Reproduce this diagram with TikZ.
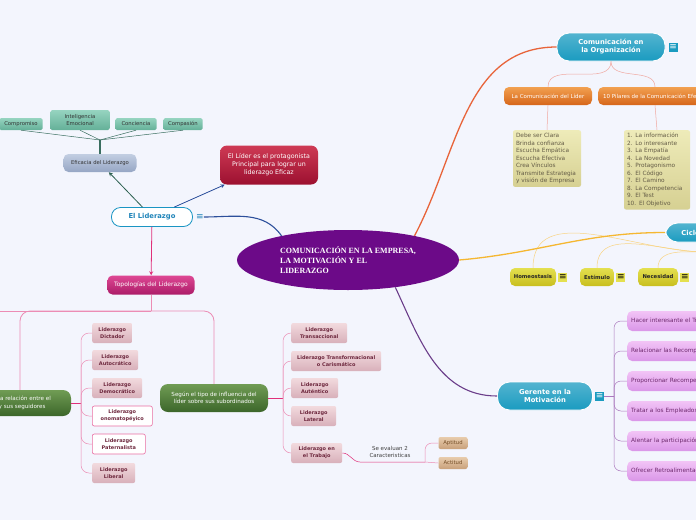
\documentclass[tikz,border=0pt]{standalone}
\usepackage{fontspec}
\setmainfont{DejaVu Sans}
\newfontfamily\titlefont{Liberation Serif}
\usetikzlibrary{arrows.meta, positioning, shapes.geometric}
\definecolor{paper}{RGB}{243,245,253}
\definecolor{plum}{RGB}{108,10,136}
\definecolor{lagoon}{RGB}{26,155,192}
\definecolor{rust}{RGB}{232,100,58}
\definecolor{amber}{RGB}{245,183,49}
\definecolor{grape}{RGB}{107,61,138}
\definecolor{grapetext}{RGB}{110,40,110}
\definecolor{navy}{RGB}{44,79,155}
\definecolor{forest}{RGB}{44,96,80}
\definecolor{rose}{RGB}{224,48,122}
\definecolor{roseline}{RGB}{236,140,180}
\definecolor{salmon}{RGB}{240,168,160}
\definecolor{orangetop}{RGB}{242,160,80}
\definecolor{orangebot}{RGB}{214,102,26}
\definecolor{khakitop}{RGB}{238,235,185}
\definecolor{khakibot}{RGB}{214,208,146}
\definecolor{ink}{RGB}{100,92,70}
\definecolor{yelltop}{RGB}{228,224,80}
\definecolor{yellbot}{RGB}{200,190,30}
\definecolor{liltop}{RGB}{242,196,246}
\definecolor{lilbot}{RGB}{218,150,232}
\definecolor{lilline}{RGB}{170,120,190}
\definecolor{crimtop}{RGB}{206,58,84}
\definecolor{crimbot}{RGB}{156,16,48}
\definecolor{slatetop}{RGB}{194,206,226}
\definecolor{slatebot}{RGB}{150,166,196}
\definecolor{minttop}{RGB}{150,212,192}
\definecolor{mintbot}{RGB}{100,176,152}
\definecolor{mintline}{RGB}{58,110,96}
\definecolor{magtop}{RGB}{222,72,148}
\definecolor{magbot}{RGB}{172,28,104}
\definecolor{olivetop}{RGB}{112,156,84}
\definecolor{olivebot}{RGB}{60,102,42}
\definecolor{blushtop}{RGB}{242,218,222}
\definecolor{blushbot}{RGB}{216,176,186}
\definecolor{wine}{RGB}{110,40,62}
\definecolor{tantop}{RGB}{232,204,172}
\definecolor{tanbot}{RGB}{200,160,122}

\begin{document}
\begin{tikzpicture}[x=1pt, y=1pt,
    tx/.style={font=\fontsize{5.8}{7.5}\selectfont},
    blob/.style={rounded corners=5pt, align=center, inner sep=1pt},
    pill/.style={blob, rounded corners=12pt, top color=lagoon!75!white, bottom color=lagoon,
                 draw=white, line width=0.9pt, text=white,
                 font=\bfseries\fontsize{6.8}{8}\selectfont},
    menu/.style={fill=lagoon, text=white, inner sep=0pt, minimum size=9pt,
                 font=\fontsize{9}{9}\selectfont},
    ymenu/.style={menu, fill=yelltop, text=black},
    orng/.style={blob, top color=orangetop, bottom color=orangebot, text=white,
                 font=\fontsize{5.5}{6.5}\selectfont, minimum height=18pt},
    note/.style={rounded corners=2pt, top color=khakitop, bottom color=khakibot,
                 text=ink, align=left, tx, inner sep=3pt, anchor=north},
    yell/.style={blob, top color=yelltop, bottom color=yellbot, text=black!85,
                 font=\bfseries\fontsize{5.3}{6}\selectfont, minimum height=18pt},
    lil/.style={blob, anchor=west, top color=liltop, bottom color=lilbot, text=grapetext,
                tx, minimum height=20pt, text width=200pt, align=left, inner xsep=4pt},
    crim/.style={blob, rounded corners=7pt, top color=crimtop, bottom color=crimbot,
                 text=white, font=\fontsize{6.3}{8}\selectfont},
    slate/.style={blob, top color=slatetop, bottom color=slatebot, text=black!80,
                  font=\fontsize{5.3}{6}\selectfont},
    mint/.style={blob, rounded corners=1.5pt, top color=minttop, bottom color=mintbot,
                 text=black!80, font=\fontsize{5.3}{6.3}\selectfont},
    mag/.style={blob, top color=magtop, bottom color=magbot, text=white,
                font=\fontsize{6}{7}\selectfont},
    olive/.style={blob, rounded corners=8pt, top color=olivetop, bottom color=olivebot,
                  text=white, font=\fontsize{5.6}{7.5}\selectfont},
    blush/.style={blob, rounded corners=2pt, top color=blushtop, bottom color=blushbot,
                  text=wine, font=\bfseries\fontsize{5}{7}\selectfont, minimum height=20pt},
    hollow/.style={blush, top color=white, bottom color=white, draw=rose!70, line width=0.6pt},
    tan/.style={blob, rounded corners=2pt, top color=tantop, bottom color=tanbot,
                text=brown!60!black, font=\fontsize{5.3}{6}\selectfont,
                minimum height=12pt, minimum width=29pt},
    link/.style={line width=0.5pt},
    arr/.style={-{Stealth[length=4pt, width=4pt]}, line width=0.8pt}
  ]
  \fill[paper] (0,0) rectangle (696,-520);
  \useasboundingbox (0,0) rectangle (696,-520);

  % centre
  \node[ellipse, fill=plum, minimum width=222pt, minimum height=60pt, text=white,
        align=left, font=\titlefont\bfseries\fontsize{8}{10}\selectfont]
        (hub) at (348,-260) {COMUNICACIÓN EN LA EMPRESA,\\LA MOTIVACIÓN Y EL\\LIDERAZGO};

  % comunicacion en la organizacion
  \node[pill, minimum width=108pt, minimum height=28pt] (org) at (611,-47)
        {Comunicación en\\la Organización};
  \node[menu, right=3pt of org] (orgico) {≡};
  \node[orng, minimum width=88pt] (lcom) at (548,-96) {La Comunicación del Líder};
  \node[orng, anchor=west, inner xsep=5pt, minimum width=110pt] (pil) at (598,-96)
        {10 Pilares de la Comunicación Efectiva};
  \node[note, text width=62pt] (lst1) at (547,-130)
        {Debe ser Clara\\Brinda confianza\\Escucha Empática\\Escucha Efectiva\\Crea Vínculos\\Transmite Estrategia\\y visión de Empresa};
  \node[note, text width=60pt] (lst2) at (657,-130)
        {1. La información\\2. Lo interesante\\3. La Empatía\\4. La Novedad\\5. Protagonismo\\6. El Código\\7. El Camino\\8. La Competencia\\9. El Test\\10. El Objetivo};
  \draw[rust, line width=1.3pt] (hub.20) to[out=62, in=180] (org.west);
  \draw[salmon, link] (org.south) to[out=-90, in=90] (lcom.north);
  \draw[salmon, link] (org.south) to[out=-90, in=90] ([xshift=57pt]pil.north west);
  \draw[salmon, link] (lcom.south) -- (lst1.north);
  \draw[salmon, link] ([xshift=57pt]pil.south west) -- (lst2.north);

  % ciclo
  \node[pill, anchor=west, inner xsep=16pt, minimum height=19pt] (cyc) at (665,-232.5)
        {Ciclo Motivacional};
  \coordinate (cycin) at (705,-252);
  \node[yell, minimum width=46pt] (homeo) at (533,-277) {Homeostasis};
  \node[yell, minimum width=34pt] (estim) at (597,-277) {Estímulo};
  \node[yell, minimum width=40pt] (neces) at (658,-277) {Necesidad};
  \foreach \k in {homeo, estim, neces} {
    \node[ymenu, right=2pt of \k] {≡};
    \draw[amber!60, link] (\k.north) to[out=90, in=180] (cycin);
  }
  \draw[amber, line width=1.3pt] (hub.east) to[out=5, in=180] (cyc.west);

  % gerente
  \node[pill, minimum width=95pt, minimum height=28pt] (ger) at (545,-396)
        {Gerente en la\\Motivación};
  \node[menu, right=2pt of ger] (gerico) {≡};
  \coordinate (mhub) at (614,-396);
  \draw[grape, line width=1.1pt] (hub.-30) to[out=-65, in=180] (ger.west);
  \draw[lilline, link] (gerico.east) -- (mhub);
  \foreach \y/\t [count=\i] in {321/Hacer interesante el Trabajo,
      351/Relacionar las Recompensas con el Rendimiento,
      381/Proporcionar Recompensas que sean valoradas,
      411/Tratar a los Empleados como personas,
      441/Alentar la participación y la colaboración,
      471/Ofrecer Retroalimentación precisa y oportuna} {
    \node[lil] (m\i) at (627,-\y) {\t};
    \draw[lilline, link, rounded corners=7pt] (mhub) |- (m\i.west);
  }

  % el liderazgo
  \node[blob, rounded corners=9pt, fill=white, draw=navy!60!cyan, line width=0.8pt,
        minimum width=81pt, minimum height=19pt, text=navy!70!cyan,
        font=\bfseries\fontsize{6.8}{8}\selectfont] (lid) at (152,-217) {El Liderazgo};
  \node[text=navy!70!cyan, inner sep=0pt, font=\fontsize{9}{9}\selectfont,
        right=3pt of lid] (lidico) {≡};
  \draw[navy, line width=1.1pt] (lidico.east) to[out=0, in=125] (hub.160);
  \node[crim, minimum width=98pt, minimum height=39pt] (lider) at (269,-165)
        {El Líder es el protagonista\\Principal para lograr un\\liderazgo Eficaz};
  \draw[arr, navy] (lid) -- (lider);
  \node[slate, minimum width=73pt, minimum height=18pt] (efic) at (100,-163)
        {Eficacia del Liderazgo};
  \draw[arr, forest] (lid) -- (efic);
  \node[mint, minimum width=43pt, minimum height=12pt] (comp) at (21,-124) {Compromiso};
  \node[mint, minimum width=59pt, minimum height=20pt] (intel) at (80,-120)
        {Inteligencia\\Emocional};
  \node[mint, minimum width=41pt, minimum height=12pt] (conc) at (136,-124) {Conciencia};
  \node[mint, minimum width=39pt, minimum height=12pt] (compa) at (183,-124) {Compasión};
  \coordinate (efhub) at (100,-140);
  \draw[mintline, line width=1.1pt] (efic.north) -- (efhub);
  \foreach \k in {comp, intel, conc, compa}
    \draw[mintline, link] (efhub) -- (\k.south);

  % topologias
  \node[mag, minimum width=87pt, minimum height=19pt] (topo) at (151,-285)
        {Topologías del Liderazgo};
  \draw[arr, rose] (lid) -- (topo);
  \coordinate (tophub) at (151,-311);
  \node[olive, minimum width=112pt, minimum height=26pt] (relac) at (15,-403)
        {Según la relación entre el\\líder y sus seguidores};
  \node[olive, minimum width=108pt, minimum height=28pt] (influ) at (214,-398)
        {Según el tipo de influencia del\\líder sobre sus subordinados};
  \draw[roseline, line width=0.8pt] (topo.south) -- (tophub);
  \draw[roseline, line width=0.8pt, rounded corners=10pt] (tophub) -| ([xshift=5pt]relac.north);
  \draw[roseline, line width=0.8pt, rounded corners=10pt] (tophub) -| (influ.north);
  \draw[roseline, line width=0.8pt] (tophub) -- (0,-311);

  \node[blush, minimum width=40pt, anchor=west] (dict) at (92,-333) {Liderazgo\\Dictador};
  \node[blush, minimum width=46pt, anchor=west] (auto) at (92,-360) {Liderazgo\\Autocrático};
  \node[blush, minimum width=50pt, anchor=west] (demo) at (92,-388) {Liderazgo\\Democrático};
  \node[hollow, minimum width=60pt, anchor=west] (onom) at (92,-416) {Liderazgo\\onomatopéyico};
  \node[hollow, minimum width=53pt, anchor=west] (pate) at (92,-444) {Liderazgo\\Paternalista};
  \node[blush, minimum width=43pt, anchor=west] (libe) at (92,-473) {Liderazgo\\Liberal};
  \coordinate (lhub) at (81,-403);
  \draw[rose, line width=0.9pt] (relac.east) -- (lhub);
  \foreach \k in {dict, auto, demo, onom, pate, libe}
    \draw[roseline, link, rounded corners=8pt] (lhub) |- (\k.west);

  \node[blush, minimum width=56pt, anchor=west] (trans) at (291,-333) {Liderazgo\\Transaccional};
  \node[blush, minimum width=90pt, anchor=west] (trafo) at (291,-361)
        {Liderazgo Transformacional\\o Carismático};
  \node[blush, minimum width=47pt, anchor=west] (aute) at (291,-388) {Liderazgo\\Auténtico};
  \node[blush, minimum width=45pt, anchor=west] (late) at (291,-416) {Liderazgo\\Lateral};
  \node[blush, minimum width=51pt, anchor=west] (trab) at (291,-453) {Liderazgo en\\el Trabajo};
  \coordinate (mdhub) at (283,-398);
  \draw[rose, line width=0.9pt] (influ.east) -- (mdhub);
  \foreach \k in {trans, trafo, aute, late, trab}
    \draw[roseline, link, rounded corners=8pt] (mdhub) |- (\k.west);

  % se evaluan
  \coordinate (evhub) at (425,-462);
  \node[font=\fontsize{5.5}{6.5}\selectfont, align=center, text=black!75] (eval)
        at (390,-452) {Se evaluan 2\\Caracteristicas};
  \node[tan] (apti) at (453,-443) {Aptitud};
  \node[tan] (acti) at (453,-463) {Actitud};
  \draw[rose, link] (trab.east) to[out=0, in=180] (360,-462) -- (evhub);
  \draw[roseline, link, rounded corners=7pt] (evhub) |- (apti.west);
  \draw[roseline, link] (evhub) -- (acti.west);
\end{tikzpicture}
\end{document}
